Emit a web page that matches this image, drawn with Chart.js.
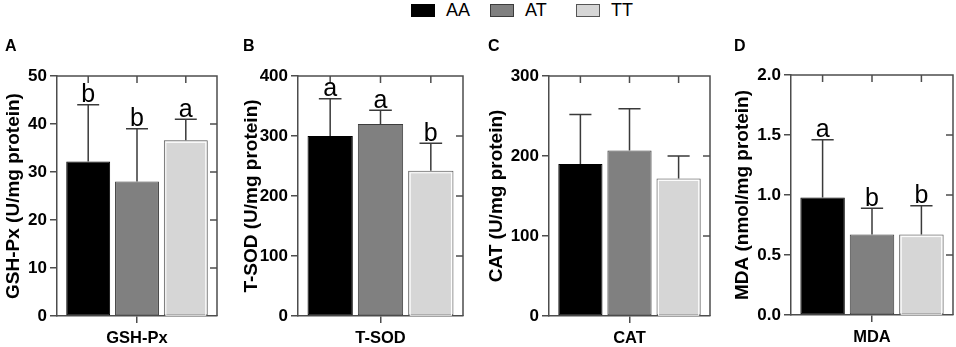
<!DOCTYPE html>
<html>
<head>
<meta charset="utf-8">
<script src="https://cdn.jsdelivr.net/npm/chart.js@4.4.1/dist/chart.umd.min.js"></script>
<style>
  body { margin: 0; width: 956px; height: 347px; background: #fff; position: relative; overflow: hidden;
         font-family: Arial, "Liberation Sans", sans-serif; }
  canvas { position: absolute; top: 0; }
  #legend { position: absolute; left: 0; top: 0; width: 956px; height: 22px; }
  .lg-box { position: absolute; top: 4px; width: 22px; height: 11px; border: 1px solid #333; }
  .lg-txt { position: absolute; top: 0px; font-size: 18px; line-height: 20px; color: #000; }
</style>
</head>
<body>
<div id="legend"></div>
<canvas id="chart0"></canvas>
<canvas id="chart1"></canvas>
<canvas id="chart2"></canvas>
<canvas id="chart3"></canvas>
<script>
// ---- data ----
const categories = ['GSH-Px', 'T-SOD', 'CAT', 'MDA'];
const genotypes = ['AA', 'AT', 'TT'];
const meanAA = [32.2, 300, 190, 0.98];
const meanAT = [28.0, 320, 207, 0.67];
const meanTT = [36.6, 242, 172, 0.67];
const sdAA = [11.8, 62, 62, 0.48];
const sdAT = [11.0, 23, 52, 0.22];
const sdTT = [4.4, 46, 28, 0.24];
const lettersAA = ['b', 'a', '', 'a'];
const lettersAT = ['b', 'a', '', 'b'];
const lettersTT = ['a', 'b', '', 'b'];
const yTitles = ['GSH-Px (U/mg protein)', 'T-SOD (U/mg protein)', 'CAT (U/mg protein)', 'MDA (nmol/mg protein)'];
const panelTags = ['A', 'B', 'C', 'D'];
const yMax = [50, 400, 300, 2.0];
const yStep = [10, 100, 100, 0.5];
const yDecimals = [0, 0, 0, 1];

// ---- look ----
const FONT = 'Arial, "Liberation Sans", sans-serif';
const fills = ['#000000', '#808080', '#d6d6d6'];
const edges = ['#000000', '#3c3c3c', '#555555'];
const axisColor = '#4d4d4d';
const CANVAS_H = 347;

// canvas placement per panel (left, width, y-axis width, right pad, plot top/bottom)
const panelBoxes = [
  { left: 0,   width: 222, axisW: 55, padR: 5, top: 76, bottom: 316 },
  { left: 238, width: 230, axisW: 58, padR: 5, top: 76, bottom: 316 },
  { left: 483, width: 232, axisW: 64, padR: 5, top: 76, bottom: 316 },
  { left: 729, width: 227, axisW: 60, padR: 3, top: 75, bottom: 315 }
];

Chart.defaults.font.family = FONT;

// legend (html)
const legend = document.getElementById('legend');
const legendX = [411, 490, 576];
genotypes.forEach((g, i) => {
  const box = document.createElement('div');
  box.className = 'lg-box';
  box.style.left = legendX[i] + 'px';
  box.style.background = fills[i];
  box.style.borderColor = edges[i];
  legend.appendChild(box);
  const txt = document.createElement('div');
  txt.className = 'lg-txt';
  txt.style.left = (legendX[i] + 35) + 'px';
  txt.textContent = g;
  legend.appendChild(txt);
});

// frame, inner ticks, error bars, letters, panel tag
const panelExtras = {
  id: 'panelExtras',
  afterDatasetsDraw(chart, args, opts) {
    const ctx = chart.ctx;
    const area = chart.chartArea;
    const yScale = chart.scales.y;
    ctx.save();

    // white inner line on the light bars
    chart.data.datasets.forEach((ds, i) => {
      if (!ds.innerLine) return;
      const bar = chart.getDatasetMeta(i).data[0];
      const half = bar.width / 2;
      ctx.strokeStyle = '#ffffff';
      ctx.lineWidth = 1;
      ctx.strokeRect(bar.x - half + 2, bar.y + 2, bar.width - 4, bar.base - bar.y - 2);
    });

    ctx.strokeStyle = axisColor;
    ctx.lineWidth = 1.5;
    ctx.beginPath();
    ctx.moveTo(area.left, area.top);
    ctx.lineTo(area.right, area.top);
    ctx.lineTo(area.right, area.bottom);
    yScale.ticks.forEach(t => {
      const py = yScale.getPixelForValue(t.value);
      if (py > area.top + 1 && py < area.bottom - 1) {
        ctx.moveTo(area.right, py);
        ctx.lineTo(area.right - 7, py);
      }
    });
    chart.data.datasets.forEach((ds, i) => {
      const bar = chart.getDatasetMeta(i).data[0];
      ctx.moveTo(bar.x, area.top);
      ctx.lineTo(bar.x, area.top + 7);
    });
    ctx.stroke();

    // error bars + significance letters
    chart.data.datasets.forEach((ds, i) => {
      const bar = chart.getDatasetMeta(i).data[0];
      const topY = yScale.getPixelForValue(ds.data[0] + ds.sd);
      const capHalf = bar.width / 4;
      ctx.strokeStyle = '#3a3a3a';
      ctx.lineWidth = 1.5;
      ctx.beginPath();
      ctx.moveTo(bar.x, bar.y);
      ctx.lineTo(bar.x, topY);
      ctx.moveTo(bar.x - capHalf, topY);
      ctx.lineTo(bar.x + capHalf, topY);
      ctx.stroke();
      if (ds.letter) {
        ctx.fillStyle = '#000';
        ctx.font = '25px ' + FONT;
        ctx.textAlign = 'center';
        ctx.textBaseline = 'alphabetic';
        ctx.fillText(ds.letter, bar.x, topY - 2.5);
      }
    });

    ctx.fillStyle = '#000';
    ctx.font = 'bold 16px ' + FONT;
    ctx.textAlign = 'left';
    ctx.textBaseline = 'middle';
    ctx.fillText(opts.tag, 5, 47);
    ctx.restore();
  }
};

const means = [meanAA, meanAT, meanTT];
const sds = [sdAA, sdAT, sdTT];
const letters = [lettersAA, lettersAT, lettersTT];

categories.forEach((cat, p) => {
  const box = panelBoxes[p];
  const canvas = document.getElementById('chart' + p);
  canvas.width = box.width;
  canvas.height = CANVAS_H;
  canvas.style.left = box.left + 'px';

  new Chart(canvas.getContext('2d'), {
    type: 'bar',
    data: {
      labels: [cat],
      datasets: genotypes.map((g, i) => ({
        label: g,
        data: [means[i][p]],
        sd: sds[i][p],
        letter: letters[i][p],
        innerLine: i === 2,
        backgroundColor: fills[i],
        borderColor: edges[i],
        borderWidth: 1,
        borderSkipped: false,
        barPercentage: 0.9,
        categoryPercentage: 0.915
      }))
    },
    options: {
      responsive: false,
      animation: false,
      layout: { padding: { left: 2, right: box.padR, top: box.top, bottom: 0 } },
      plugins: {
        legend: { display: false },
        tooltip: { enabled: false },
        panelExtras: { tag: panelTags[p] }
      },
      scales: {
        x: {
          z: 1,
          grid: { offset: false, drawOnChartArea: false, tickLength: 7, color: axisColor, lineWidth: 1.5 },
          border: { color: axisColor, width: 1.5 },
          ticks: { color: '#000', padding: 6, maxRotation: 0, font: { size: 16.5, weight: 'bold' } },
          afterFit: s => { s.height = CANVAS_H - box.bottom; }
        },
        y: {
          z: 1,
          min: 0,
          max: yMax[p],
          grid: { drawOnChartArea: false, tickLength: 7, color: axisColor, lineWidth: 1.5 },
          border: { color: axisColor, width: 1.5 },
          ticks: {
            stepSize: yStep[p],
            color: '#000',
            padding: 3,
            font: { size: 17, weight: 'bold' },
            callback: v => Number(v).toFixed(yDecimals[p])
          },
          title: {
            display: true,
            text: yTitles[p],
            color: '#000',
            padding: 0,
            font: { size: 19, weight: 'bold' }
          },
          afterFit: s => { s.width = box.axisW; }
        }
      }
    },
    plugins: [panelExtras]
  });
});
</script>
</body>
</html>
